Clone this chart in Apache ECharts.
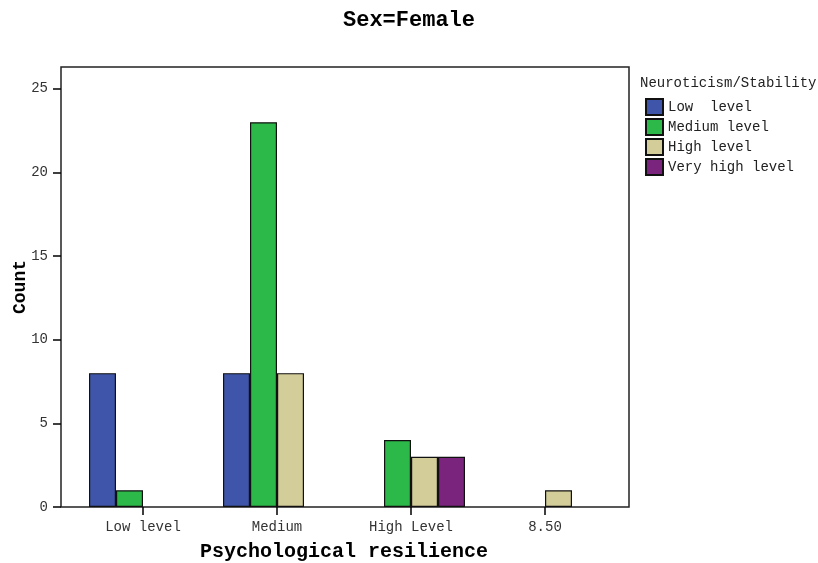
<!DOCTYPE html>
<html>
<head>
<meta charset="utf-8">
<script src="https://cdn.jsdelivr.net/npm/echarts@6/dist/echarts.min.js"></script>
<style>html,body{margin:0;padding:0;background:#fff;}#c{width:818px;height:563px;}</style>
</head>
<body>
<div id="c"></div>
<script>
var categories = ['Low level', 'Medium', 'High Level', '8.50'];
var seriesNames = ['Low  level', 'Medium level', 'High level', 'Very high level'];
var lowLevel = [8, 8, null, null];
var mediumLevel = [1, 23, 4, null];
var highLevel = [null, 8, 3, 1];
var veryHighLevel = [null, null, 3, null];
var colors = ['#3e55a9', '#2db84a', '#d3cd99', '#7b247d'];
var yTicks = [0, 5, 10, 15, 20, 25];

var seriesData = [lowLevel, mediumLevel, highLevel, veryHighLevel];
var font = 'Liberation Mono, Courier New, monospace';

var chart = echarts.init(document.getElementById('c'), null, {renderer: 'canvas'});
var option = {
  animation: false,
  backgroundColor: '#fff',
  color: colors,
  title: [
    {text: 'Sex=Female', left: 'center', top: 4,
     textStyle: {fontFamily: font, fontSize: 22, fontWeight: 'bold', color: '#000'}},
    {text: 'Neuroticism/Stability', left: 640, top: 76, padding: 0,
     textStyle: {fontFamily: font, fontSize: 14, fontWeight: 'normal', color: '#222'}}
  ],
  legend: {
    orient: 'vertical', left: 645, top: 98, padding: 0,
    itemWidth: 17, itemHeight: 16, itemGap: 2,
    icon: 'rect',
    textStyle: {fontFamily: font, fontSize: 14, color: '#222', lineHeight: 16},
    data: seriesNames
  },
  grid: [
    {left: 76, right: 206, top: 67, bottom: 56, show: false, outerBoundsMode: 'none', containLabel: false},
    {left: 61, right: 189, top: 67, bottom: 56, show: true, borderColor: '#222', borderWidth: 1.5, backgroundColor: 'transparent', outerBoundsMode: 'none', containLabel: false}
  ],
  xAxis: [
    {type: 'category', gridIndex: 0, data: categories,
     axisLine: {show: false},
     axisTick: {show: true, alignWithLabel: true, length: 8, lineStyle: {color: '#000', width: 1.5}},
     axisLabel: {fontFamily: font, fontSize: 14, color: '#333', margin: 13},
     name: 'Psychological resilience', nameLocation: 'middle', nameGap: 35, nameMoveOverlap: false,
     nameTextStyle: {fontFamily: font, fontSize: 20, fontWeight: 'bold', color: '#000'}},
    {type: 'category', gridIndex: 1, show: false, data: categories}
  ],
  yAxis: [
    {type: 'value', gridIndex: 0, min: 0, max: 26.3, interval: 5, offset: 15,
     axisLine: {show: false},
     axisTick: {show: true, length: 8, lineStyle: {color: '#000', width: 1.5}},
     axisLabel: {fontFamily: font, fontSize: 14, color: '#333', margin: 13, showMaxLabel: false,
       formatter: function (v) { return yTicks.indexOf(v) >= 0 ? String(v) : ''; }},
     splitLine: {show: false},
     name: 'Count', nameLocation: 'middle', nameGap: 32, nameRotate: 90, nameMoveOverlap: false,
     nameTextStyle: {fontFamily: font, fontSize: 18, fontWeight: 'bold', color: '#000'}},
    {type: 'value', gridIndex: 1, show: false, min: 0, max: 26.3}
  ],
  series: seriesNames.map(function (n, i) {
    return {
      name: n, type: 'bar', xAxisIndex: 0, yAxisIndex: 0,
      barWidth: 27, barGap: '0%',
      itemStyle: {color: colors[i], borderColor: '#111', borderWidth: 1.2},
      data: seriesData[i]
    };
  })
};
chart.setOption(option);
</script>
</body>
</html>
